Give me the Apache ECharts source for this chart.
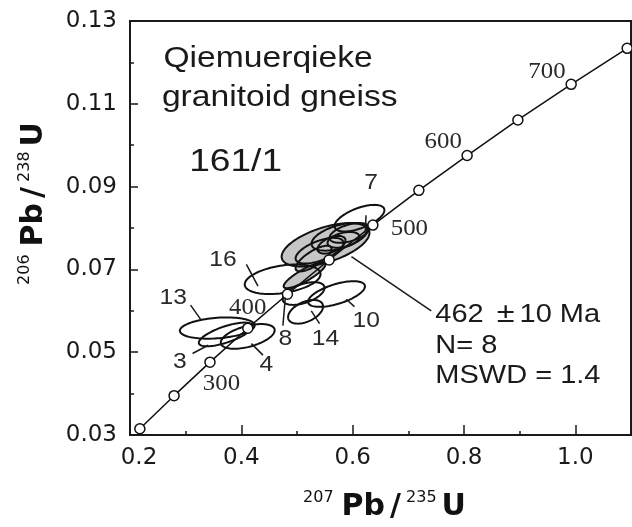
<!DOCTYPE html>
<html>
<head>
<meta charset="utf-8">
<script src="https://cdn.jsdelivr.net/npm/echarts@6/dist/echarts.min.js"></script>
<style>
  html, body { margin: 0; padding: 0; background: #fff; }
  #chart { width: 632px; height: 527px; }
</style>
</head>
<body>
<div id="chart"></div>
<script>
// ---- Concordia markers (age in Ma, 207Pb/235U, 206Pb/238U) ----
const concAge = [200, 250, 300, 350, 400, 450, 500, 550, 600, 650, 700, 750];
const concX = [0.2177, 0.2792, 0.3437, 0.4116, 0.4828, 0.5577, 0.6363, 0.7189, 0.8056, 0.8968, 0.9925, 1.0931];
const concY = [0.0315, 0.0395, 0.0476, 0.0558, 0.0640, 0.0723, 0.0807, 0.0891, 0.0975, 0.1061, 0.1147, 0.1234];

// ---- Age labels along concordia ----
const ageLabelText = ['300', '400', '500', '600', '700'];
const ageLabelX = [0.3643, 0.4115, 0.7018, 0.7627, 0.9491];
const ageLabelY = [0.04238, 0.06079, 0.07983, 0.10071, 0.11762];

// ---- Open (excluded) spot ellipses ----
const openSpot = ['13', '3', '4', '16', '8', '10', '14', '7'];
const openX   = [0.3568, 0.3720, 0.4115, 0.4742, 0.5118, 0.5710, 0.5154, 0.6122];
const openY   = [0.05583, 0.05429, 0.05381, 0.06762, 0.06417, 0.06405, 0.05976, 0.08238];
const openSX  = [0.0672, 0.0484, 0.0484, 0.0681, 0.0376, 0.0511, 0.0314, 0.0448];
const openSY  = [0.00257, 0.00286, 0.00298, 0.00357, 0.00274, 0.00310, 0.00286, 0.00321];
const openRho = [0.25, 0.70, 0.50, 0.35, 0.50, 0.60, 0.45, 0.60];

// ---- Grey (concordant, used in mean age) ellipses ----
const meanX   = [0.5513, 0.5136, 0.5763, 0.5943, 0.5405, 0.5620, 0.5835, 0.5297];
const meanY   = [0.07595, 0.06857, 0.07786, 0.07881, 0.07452, 0.07595, 0.07714, 0.07262];
const meanSX  = [0.0789, 0.0376, 0.0502, 0.0358, 0.0430, 0.0251, 0.0287, 0.0323];
const meanSY  = [0.00524, 0.00310, 0.00333, 0.00238, 0.00310, 0.00214, 0.00190, 0.00310];
const meanRho = [0.55, 0.85, 0.50, 0.50, 0.60, 0.50, 0.40, 0.75];

// ---- Spot number labels ----
const spotLabelText = ['7', '16', '13', '3', '4', '8', '14', '10'];
const spotLabelX = [0.6332, 0.3672, 0.2776, 0.2896, 0.4450, 0.4790, 0.5513, 0.6242];
const spotLabelY = [0.09095, 0.07231, 0.06302, 0.04769, 0.04690, 0.05326, 0.05310, 0.05762];

// ---- Leader lines (from, to) ----
const leaderX1 = [0.6240, 0.4091, 0.3088, 0.3124, 0.4389, 0.4747, 0.5256, 0.6032, 0.5978];
const leaderY1 = [0.08310, 0.07119, 0.06136, 0.04969, 0.04929, 0.05643, 0.06000, 0.06102, 0.07310];
const leaderX2 = [0.6226, 0.4299, 0.3285, 0.3403, 0.4181, 0.4790, 0.5405, 0.5884, 0.7412];
const leaderY2 = [0.07833, 0.06595, 0.05762, 0.05167, 0.05207, 0.06317, 0.05690, 0.06279, 0.06000];

// ---- Annotation texts ----
const noteText = ['Qiemuerqieke', 'granitoid gneiss', '161/1', '462 {pm|±}10 Ma', 'N= 8', 'MSWD = 1.4'];
const noteX = [0.2600, 0.2573, 0.3063, 0.7484, 0.7484, 0.7484];
const noteY = [0.12071, 0.11129, 0.09602, 0.05905, 0.05148, 0.04412];
const noteSize = [29, 29, 32, 25, 25, 25];

// ---- Axis ticks ----
const xMin = 0.2, xMax = 1.1, xStep = 0.2, xMinorStep = 0.1;
const yMin = 0.03, yMax = 0.13, yStep = 0.02;

const chart = echarts.init(document.getElementById('chart'), null, { renderer: 'canvas' });

function ellipseRows(xs, ys, sxs, sys, rhos) {
  return xs.map((x, i) => [x, ys[i], sxs[i], sys[i], rhos[i]]);
}
function ellipsePoints(api) {
  const cx = api.value(0), cy = api.value(1), sx = api.value(2), sy = api.value(3), rho = api.value(4);
  const a = Math.acos(rho);
  const pts = [];
  const n = 96;
  for (let i = 0; i < n; i++) {
    const t = i / n * Math.PI * 2;
    pts.push(api.coord([cx + sx * Math.cos(t), cy + sy * Math.cos(t - a)]));
  }
  return pts;
}
function ellipseSeries(rows, fill, stroke, lw, z) {
  return {
    type: 'custom', z: z, silent: true,
    data: rows,
    encode: { x: 0, y: 1 },
    renderItem: function (params, api) {
      return {
        type: 'polygon',
        shape: { points: ellipsePoints(api) },
        style: { fill: fill, stroke: stroke, lineWidth: lw }
      };
    }
  };
}

const openRows = ellipseRows(openX, openY, openSX, openSY, openRho);
const meanRows = ellipseRows(meanX, meanY, meanSX, meanSY, meanRho);

const leaderRows = leaderX1.map((x, i) => [x, leaderY1[i], leaderX2[i], leaderY2[i]]);

function textSeries(xs, ys, texts, styleFn, z) {
  return {
    type: 'custom', z: z, silent: true,
    data: xs.map((x, i) => [x, ys[i], i]),
    encode: { x: 0, y: 1 },
    renderItem: function (params, api) {
      const i = api.value(2);
      const p = api.coord([api.value(0), api.value(1)]);
      const s = styleFn(i);
      return {
        type: 'text', x: p[0], y: p[1], scaleX: s.scaleX,
        style: Object.assign({ text: texts[i] }, s.style)
      };
    }
  };
}

const richAxisName = {
  sup: { fontFamily: 'DejaVu Sans', fontSize: 16, lineHeight: 16, verticalAlign: 'top', color: '#111' },
  pb: { fontFamily: 'DejaVu Sans', fontWeight: 'bold', fontSize: 30, lineHeight: 34, color: '#111', padding: [0, 0, 0, 8] },
  sl: { fontFamily: 'DejaVu Sans', fontWeight: 'bold', fontSize: 30, lineHeight: 34, color: '#111', padding: [0, 5, 0, 5] },
  u: { fontFamily: 'DejaVu Sans', fontWeight: 'bold', fontSize: 30, lineHeight: 34, color: '#111', padding: [0, 0, 0, 5] }
};

const option = {
  animation: false,
  backgroundColor: '#ffffff',
  grid: { left: 130, right: 1, top: 21, bottom: 86, show: true, borderColor: '#1a1a1a', borderWidth: 2 },
  xAxis: [
    {
      type: 'value', position: 'bottom', min: xMin, max: xMax, interval: xStep,
      axisLine: { show: true, onZero: false, lineStyle: { color: '#1a1a1a', width: 2 } },
      axisTick: { show: true, inside: true, length: 10, lineStyle: { color: '#1a1a1a', width: 1.5 } },
      splitLine: { show: false },
      axisLabel: {
        show: true, margin: 12, showMaxLabel: false,
        fontFamily: 'DejaVu Sans', fontSize: 23, color: '#1a1a1a',
        formatter: function (v) {
          return Math.abs(v - xMin) < 1e-9 ? '{f|' + v.toFixed(1) + '}' : v.toFixed(1);
        },
        rich: { f: { fontFamily: 'DejaVu Sans', fontSize: 23, color: '#1a1a1a', padding: [0, 0, 0, 18] } }
      },
      name: '{sup|207}{pb|Pb}{sl|/}{sup|235}{u|U}',
      nameLocation: 'middle', nameGap: 55,
      nameTextStyle: { rich: richAxisName, padding: [0, 0, 0, 8] }
    },
    {
      type: 'value', position: 'bottom', min: xMin, max: xMax, interval: xMinorStep,
      axisLine: { show: false, onZero: false },
      axisTick: { show: true, inside: true, length: 4, lineStyle: { color: '#1a1a1a', width: 1.5 } },
      axisLabel: { show: false },
      splitLine: { show: false }
    }
  ],
  yAxis: {
    type: 'value', min: yMin, max: yMax, interval: yStep,
    axisLine: { show: true, onZero: false, lineStyle: { color: '#1a1a1a', width: 2 } },
    axisTick: { show: true, inside: true, length: 8, lineStyle: { color: '#1a1a1a', width: 1.5 } },
    minorTick: { show: true, splitNumber: 2, length: 4, lineStyle: { color: '#1a1a1a', width: 1.5 } },
    splitLine: { show: false },
    minorSplitLine: { show: false },
    axisLabel: {
      margin: 13, fontFamily: 'DejaVu Sans', fontSize: 23, color: '#1a1a1a',
      formatter: function (v) { return v.toFixed(2); }
    },
    name: '{sup|206}{pb|Pb}{sl|/}{sup|238}{u|U}',
    nameLocation: 'middle', nameRotate: 90, nameGap: 79,
    nameTextStyle: { rich: richAxisName, padding: [0, 0, 0, 49] }
  },
  series: [
    ellipseSeries(meanRows, '#c6c6c6', null, 0, 1),
    ellipseSeries(meanRows, null, '#111', 2, 2),
    ellipseSeries(openRows, null, '#111', 2, 2),
    {
      type: 'line', z: 3, silent: true,
      data: concX.map((x, i) => [x, concY[i]]),
      symbol: 'circle', symbolSize: 10, showSymbol: true,
      lineStyle: { color: '#111', width: 1.5 },
      itemStyle: { color: '#ffffff', borderColor: '#111', borderWidth: 1.5 }
    },
    {
      type: 'custom', z: 4, silent: true,
      data: leaderRows,
      encode: { x: [0, 2], y: [1, 3] },
      renderItem: function (params, api) {
        const a = api.coord([api.value(0), api.value(1)]);
        const b = api.coord([api.value(2), api.value(3)]);
        return { type: 'line', shape: { x1: a[0], y1: a[1], x2: b[0], y2: b[1] }, style: { stroke: '#1a1a1a', lineWidth: 1.5 } };
      }
    },
    textSeries(ageLabelX, ageLabelY, ageLabelText, function () {
      return { scaleX: 1.08, style: { fontFamily: 'Liberation Serif', fontSize: 23, fill: '#2a2a2a', align: 'center', verticalAlign: 'middle' } };
    }, 5),
    textSeries(spotLabelX, spotLabelY, spotLabelText, function () {
      return { scaleX: 1.12, style: { fontFamily: 'Liberation Sans', fontSize: 22, fill: '#2a2a2a', align: 'center', verticalAlign: 'middle' } };
    }, 5),
    textSeries(noteX, noteY, noteText, function (i) {
      return {
        scaleX: 1.16,
        style: {
          fontFamily: 'Liberation Sans', fontSize: noteSize[i], fill: '#1a1a1a', align: 'left', verticalAlign: 'middle',
          rich: { pm: { fontFamily: 'Liberation Sans', fontSize: 28, width: 24, align: 'center', fill: '#1a1a1a' } }
        }
      };
    }, 5)
  ]
};

chart.setOption(option);
</script>
</body>
</html>
